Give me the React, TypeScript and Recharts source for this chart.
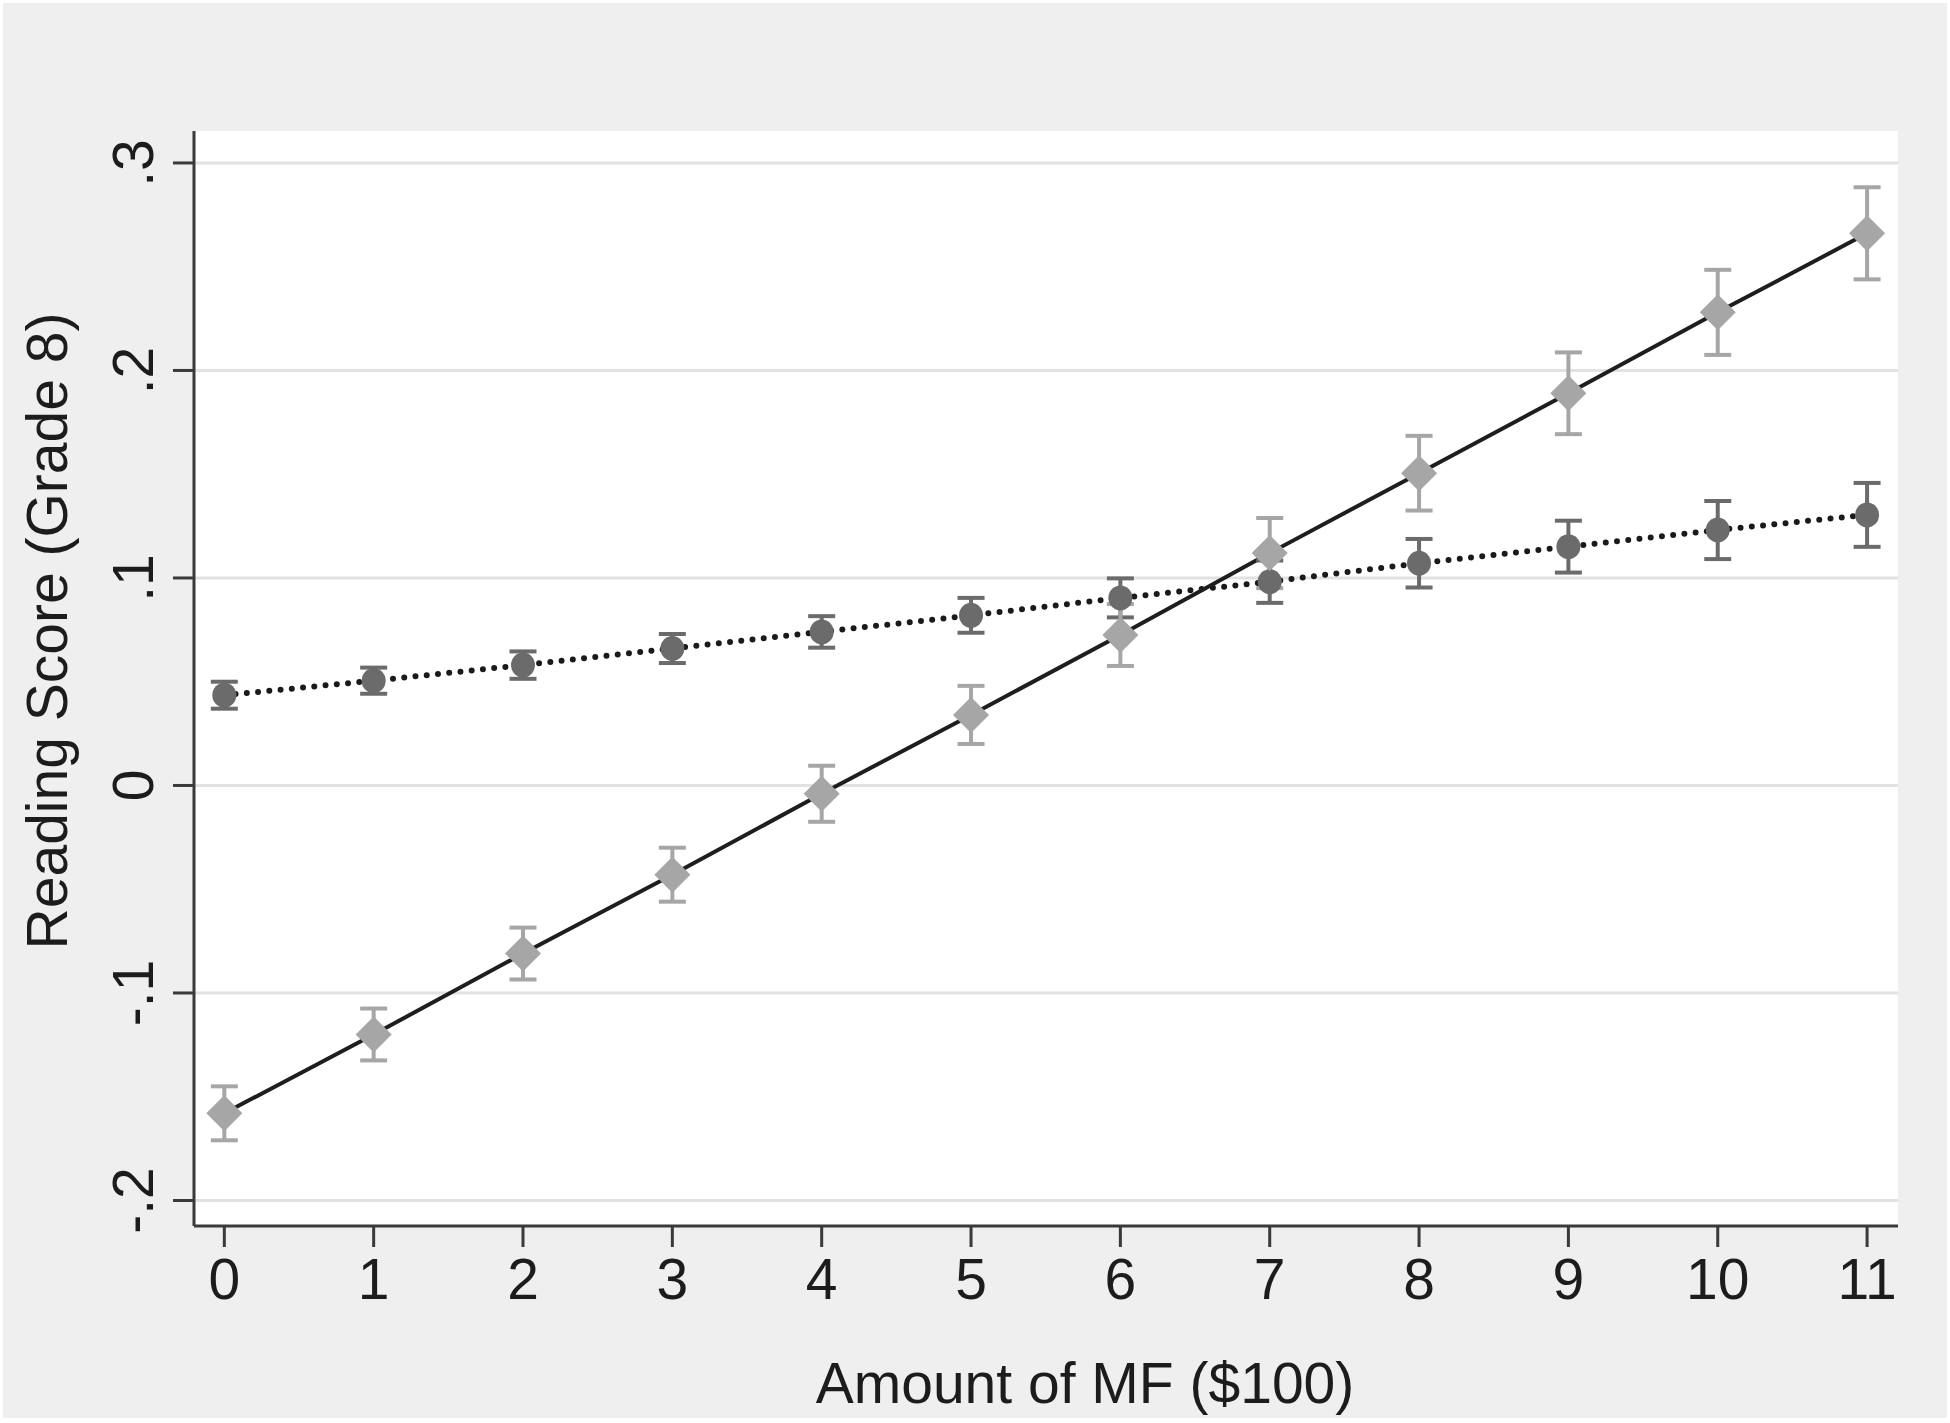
import React from 'react';
import {
  ComposedChart,
  Line,
  Scatter,
  ErrorBar,
  XAxis,
  YAxis,
  CartesianGrid,
} from 'recharts';

// Amount of MF in $100 units
const amounts = [0, 1, 2, 3, 4, 5, 6, 7, 8, 9, 10, 11];

// dotted line, dark circles
const circleMeans = [0.0435, 0.0505, 0.058, 0.066, 0.074, 0.082, 0.0904, 0.0982, 0.1071, 0.1151, 0.1231, 0.1304];
const circleCi = [0.0065, 0.0063, 0.0066, 0.007, 0.0076, 0.0084, 0.0094, 0.0102, 0.0117, 0.0125, 0.014, 0.0154];

// solid line, light diamonds
const diamondMeans = [-0.158, -0.12, -0.081, -0.043, -0.004, 0.034, 0.0725, 0.112, 0.1505, 0.189, 0.228, 0.2661];
const diamondCi = [0.013, 0.0125, 0.0125, 0.013, 0.0135, 0.014, 0.0149, 0.0169, 0.018, 0.0197, 0.0205, 0.0222];

const xTicks = [0, 1, 2, 3, 4, 5, 6, 7, 8, 9, 10, 11];
const yTicks = [-0.2, -0.1, 0, 0.1, 0.2, 0.3];

const rows = amounts.map((a, i) => ({
  amount: a,
  circle: circleMeans[i],
  circleErr: circleCi[i],
  diamond: diamondMeans[i],
  diamondErr: diamondCi[i],
}));

const FONT = '"Liberation Sans", Arial, sans-serif';
const TEXT = '#1c1c1c';
const AXIS = '#3a3a3a';
const DARK = '#6b6b6b';
const LIGHT = '#a6a6a6';

// stata style: .3, -.1, 0
const fmt = (v: number) => {
  if (v === 0) return '0';
  const s = String(Math.abs(v)).replace(/^0/, '');
  return (v < 0 ? '-' : '') + s;
};

const YTick = ({ x, y, payload }: any) => (
  <text
    x={x}
    y={y}
    transform={`rotate(-90 ${x} ${y})`}
    textAnchor="middle"
    fontSize={57}
    fontFamily={FONT}
    fill={TEXT}
  >
    {fmt(payload.value)}
  </text>
);

const Diamond = ({ cx, cy }: any) => (
  <polygon
    points={`${cx},${cy - 18} ${cx + 18},${cy} ${cx},${cy + 18} ${cx - 18},${cy}`}
    fill={LIGHT}
  />
);

const Dot = ({ cx, cy }: any) => <ellipse cx={cx} cy={cy} rx={12} ry={12.5} fill={DARK} />;

export default function App() {
  return (
    <div style={{ position: 'relative', width: 1950, height: 1423, background: '#fff' }}>
      <style>{'body{margin:0}'}</style>
      <div
        style={{
          position: 'absolute',
          left: 3,
          top: 3,
          width: 1944,
          height: 1415,
          background: '#efefef',
        }}
      />
      <div style={{ position: 'absolute', left: 0, top: 0 }}>
        <ComposedChart
          width={1950}
          height={1423}
          data={rows}
          margin={{ top: 131, right: 52, bottom: 97, left: 94 }}
        >
          <CartesianGrid
            vertical={false}
            horizontalValues={yTicks}
            fill="#fff"
            stroke="#e2e2e2"
            strokeWidth={3}
          />
          <XAxis
            dataKey="amount"
            type="number"
            domain={[-0.203, 11.207]}
            ticks={xTicks}
            allowDataOverflow
            height={100}
            tickSize={21}
            tickMargin={12}
            axisLine={{ stroke: AXIS, strokeWidth: 3 }}
            tickLine={{ stroke: AXIS, strokeWidth: 3 }}
            tick={{ fontSize: 57, fontFamily: FONT, fill: TEXT }}
            label={{
              value: 'Amount of MF ($100)',
              content: () => (
                <text x={1085} y={1403} textAnchor="middle" fontSize={57} fontFamily={FONT} fill={TEXT}>
                  Amount of MF ($100)
                </text>
              ),
            }}
          />
          <YAxis
            type="number"
            domain={[-0.2123, 0.3154]}
            ticks={yTicks}
            allowDataOverflow
            width={100}
            tickSize={21}
            tickMargin={20}
            axisLine={{ stroke: AXIS, strokeWidth: 3 }}
            tickLine={{ stroke: AXIS, strokeWidth: 3 }}
            tick={<YTick />}
            label={{
              value: 'Reading Score (Grade 8)',
              content: () => (
                <text
                  x={67}
                  y={631}
                  transform="rotate(-90 67 631)"
                  textAnchor="middle"
                  fontSize={57}
                  fontFamily={FONT}
                  fill={TEXT}
                >
                  Reading Score (Grade 8)
                </text>
              ),
            }}
          />
          <Line
            dataKey="circle"
            type="linear"
            stroke="#1a1a1a"
            strokeWidth={6}
            strokeDasharray="0 11.3"
            strokeLinecap="round"
            dot={false}
            activeDot={false}
            isAnimationActive={false}
          />
          <Line
            dataKey="diamond"
            type="linear"
            stroke="#1e1e1e"
            strokeWidth={4}
            dot={false}
            activeDot={false}
            isAnimationActive={false}
          />
          <Scatter dataKey="circle" shape={<Dot />} isAnimationActive={false}>
            <ErrorBar dataKey="circleErr" direction="y" width={13.5} stroke={DARK} strokeWidth={4} />
          </Scatter>
          <Scatter dataKey="diamond" shape={<Diamond />} isAnimationActive={false}>
            <ErrorBar dataKey="diamondErr" direction="y" width={13.5} stroke={LIGHT} strokeWidth={4} />
          </Scatter>
        </ComposedChart>
      </div>
    </div>
  );
}
